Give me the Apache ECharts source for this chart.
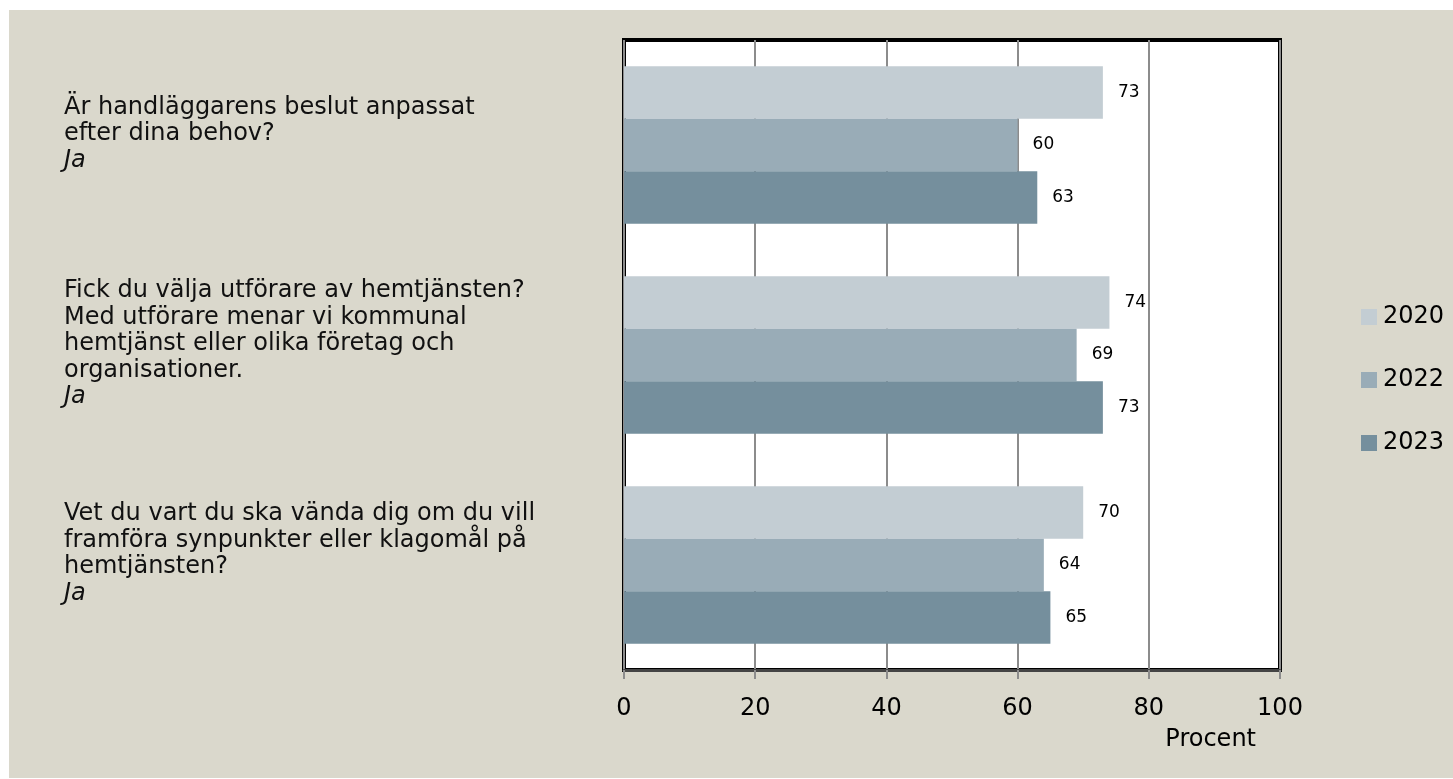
<!DOCTYPE html>
<html>
<head>
<meta charset="utf-8">
<script src="https://cdn.jsdelivr.net/npm/echarts@6/dist/echarts.min.js"></script>
<style>
html,body{margin:0;padding:0;background:#fff;width:1453px;height:779px;overflow:hidden;}
#bg{position:absolute;left:9px;top:10px;width:1444px;height:768px;background:#DAD8CC;}
#chart{position:absolute;left:0;top:0;width:1453px;height:779px;}
</style>
</head>
<body>
<div id="bg"></div>
<div id="chart"></div>
<script>
const categories = [
  'Är handläggarens beslut anpassat\nefter dina behov?\nJa',
  'Fick du välja utförare av hemtjänsten?\nMed utförare menar vi kommunal\nhemtjänst eller olika företag och\norganisationer.\nJa',
  'Vet du vart du ska vända dig om du vill\nframföra synpunkter eller klagomål på\nhemtjänsten?\nJa'
];
const seriesNames = ['2020', '2022', '2023'];
const values2020 = [73, 74, 70];
const values2022 = [60, 69, 64];
const values2023 = [63, 73, 65];
const xTicks = [0, 20, 40, 60, 80, 100];
const axisTitle = 'Procent';

const colors = ['#C3CDD3', '#99ACB7', '#758F9D'];
const FONT = 'DejaVu Sans';

const chart = echarts.init(document.getElementById('chart'), null, {renderer: 'canvas'});
const allValues = [values2020, values2022, values2023];

chart.setOption({
  backgroundColor: 'transparent',
  animation: false,
  textStyle: {fontFamily: FONT},
  legend: {
    orient: 'vertical',
    left: 1361,
    top: 305,
    padding: 0,
    itemWidth: 16,
    itemHeight: 16,
    itemGap: 39,
    icon: 'rect',
    data: seriesNames,
    textStyle: {fontFamily: FONT, fontSize: 24, color: '#000', padding: [0, 0, 0, 1]}
  },
  grid: {
    left: 624, top: 40, width: 656, height: 630,
    show: true, backgroundColor: '#fff', borderColor: '#000', borderWidth: 4,
    containLabel: false
  },
  xAxis: {
    type: 'value',
    min: xTicks[0], max: xTicks[xTicks.length - 1], interval: 20,
    name: axisTitle,
    nameLocation: 'end',
    nameGap: -24,
    nameTextStyle: {fontFamily: FONT, fontSize: 24, color: '#000', align: 'right', verticalAlign: 'top', padding: [58, 0, 0, 0]},
    axisLine: {show: true, lineStyle: {color: '#444', width: 3}},
    axisTick: {show: true, length: 9, lineStyle: {color: '#8c8c8c', width: 2}},
    axisLabel: {fontFamily: FONT, fontSize: 24, color: '#000', margin: 27},
    splitLine: {show: true, lineStyle: {color: '#8c8c8c', width: 2}}
  },
  yAxis: {
    type: 'category',
    inverse: true,
    data: categories,
    axisLine: {show: false},
    axisTick: {show: false},
    axisLabel: {
      align: 'left',
      margin: 560,
      padding: [0, 0, 22, 0],
      formatter: function (v) {
        const lines = v.split('\n');
        return lines.map((l, i) => i === lines.length - 1 ? '{a|' + l + '}' : '{q|' + l + '}').join('\n');
      },
      rich: {
        q: {fontFamily: FONT, fontSize: 24, color: '#111', lineHeight: 26.5},
        a: {fontFamily: FONT, fontSize: 24, color: '#111', lineHeight: 26.5, fontStyle: 'italic'}
      }
    }
  },
  series: seriesNames.map((name, i) => ({
    name: name,
    type: 'bar',
    data: allValues[i],
    barGap: '0%',
    barCategoryGap: '25%',
    itemStyle: {color: colors[i]},
    label: {show: true, position: 'right', distance: 15, fontFamily: FONT, fontSize: 17, color: '#000'}
  }))
});
</script>
</body>
</html>
